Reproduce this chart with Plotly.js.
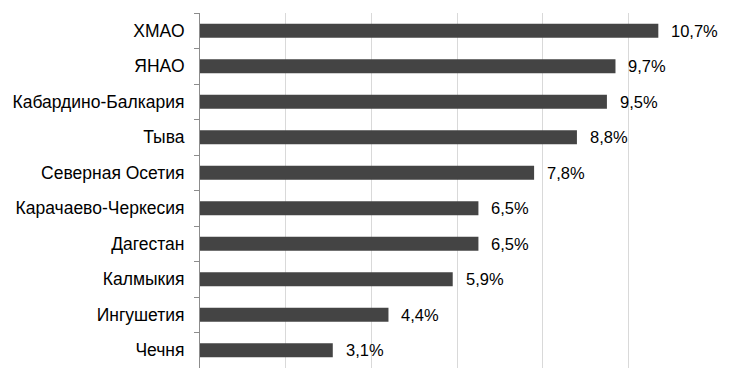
<!DOCTYPE html>
<html>
<head>
<meta charset="utf-8">
<script src="https://cdn.plot.ly/plotly-3.0.1.min.js"></script>
<style>html,body{margin:0;padding:0;background:#fff;}#chart{width:730px;height:376px;}</style>
</head>
<body>
<div id="chart"></div>
<script>
const categories = ["ХМАО", "ЯНАО", "Кабардино-Балкария", "Тыва", "Северная Осетия", "Карачаево-Черкесия", "Дагестан", "Калмыкия", "Ингушетия", "Чечня"];
const values = [10.7, 9.7, 9.5, 8.8, 7.8, 6.5, 6.5, 5.9, 4.4, 3.1];
const valueLabels = ["10,7%", "9,7%", "9,5%", "8,8%", "7,8%", "6,5%", "6,5%", "5,9%", "4,4%", "3,1%"];

const font = {family: "Liberation Sans, Arial, sans-serif", size: 16.5, color: "#000"};
const yFont = {family: "Liberation Sans, Arial, sans-serif", size: 17.5, color: "#000"};

const annotations = categories.map((c, i) => ({
  x: values[i], y: c, xref: "x", yref: "y",
  text: valueLabels[i], showarrow: false,
  xanchor: "left", yanchor: "middle", xshift: 11,
  font: font
}));

Plotly.newPlot("chart", [{
  type: "bar", orientation: "h",
  x: values, y: categories,
  marker: {color: "#444444"},
  width: 0.4,
  hoverinfo: "none"
}], {
  width: 730, height: 376,
  margin: {l: 200, r: 16, t: 13, b: 8, pad: 0},
  paper_bgcolor: "#fff", plot_bgcolor: "#fff",
  font: font,
  showlegend: false,
  xaxis: {range: [0, 12], dtick: 2, showgrid: true, gridcolor: "#d9d9d9", gridwidth: 1,
          showticklabels: false, zeroline: false, showline: false, ticks: "", fixedrange: true},
  yaxis: {autorange: "reversed", showline: true, linecolor: "#8c8c8c", linewidth: 1,
          ticks: "outside", tickson: "boundaries", ticklen: 5, tickcolor: "#8c8c8c",
          ticklabelstandoff: 11,
          showgrid: false, tickfont: yFont, fixedrange: true},
  annotations: annotations
}, {staticPlot: true, displayModeBar: false});
</script>
</body>
</html>
